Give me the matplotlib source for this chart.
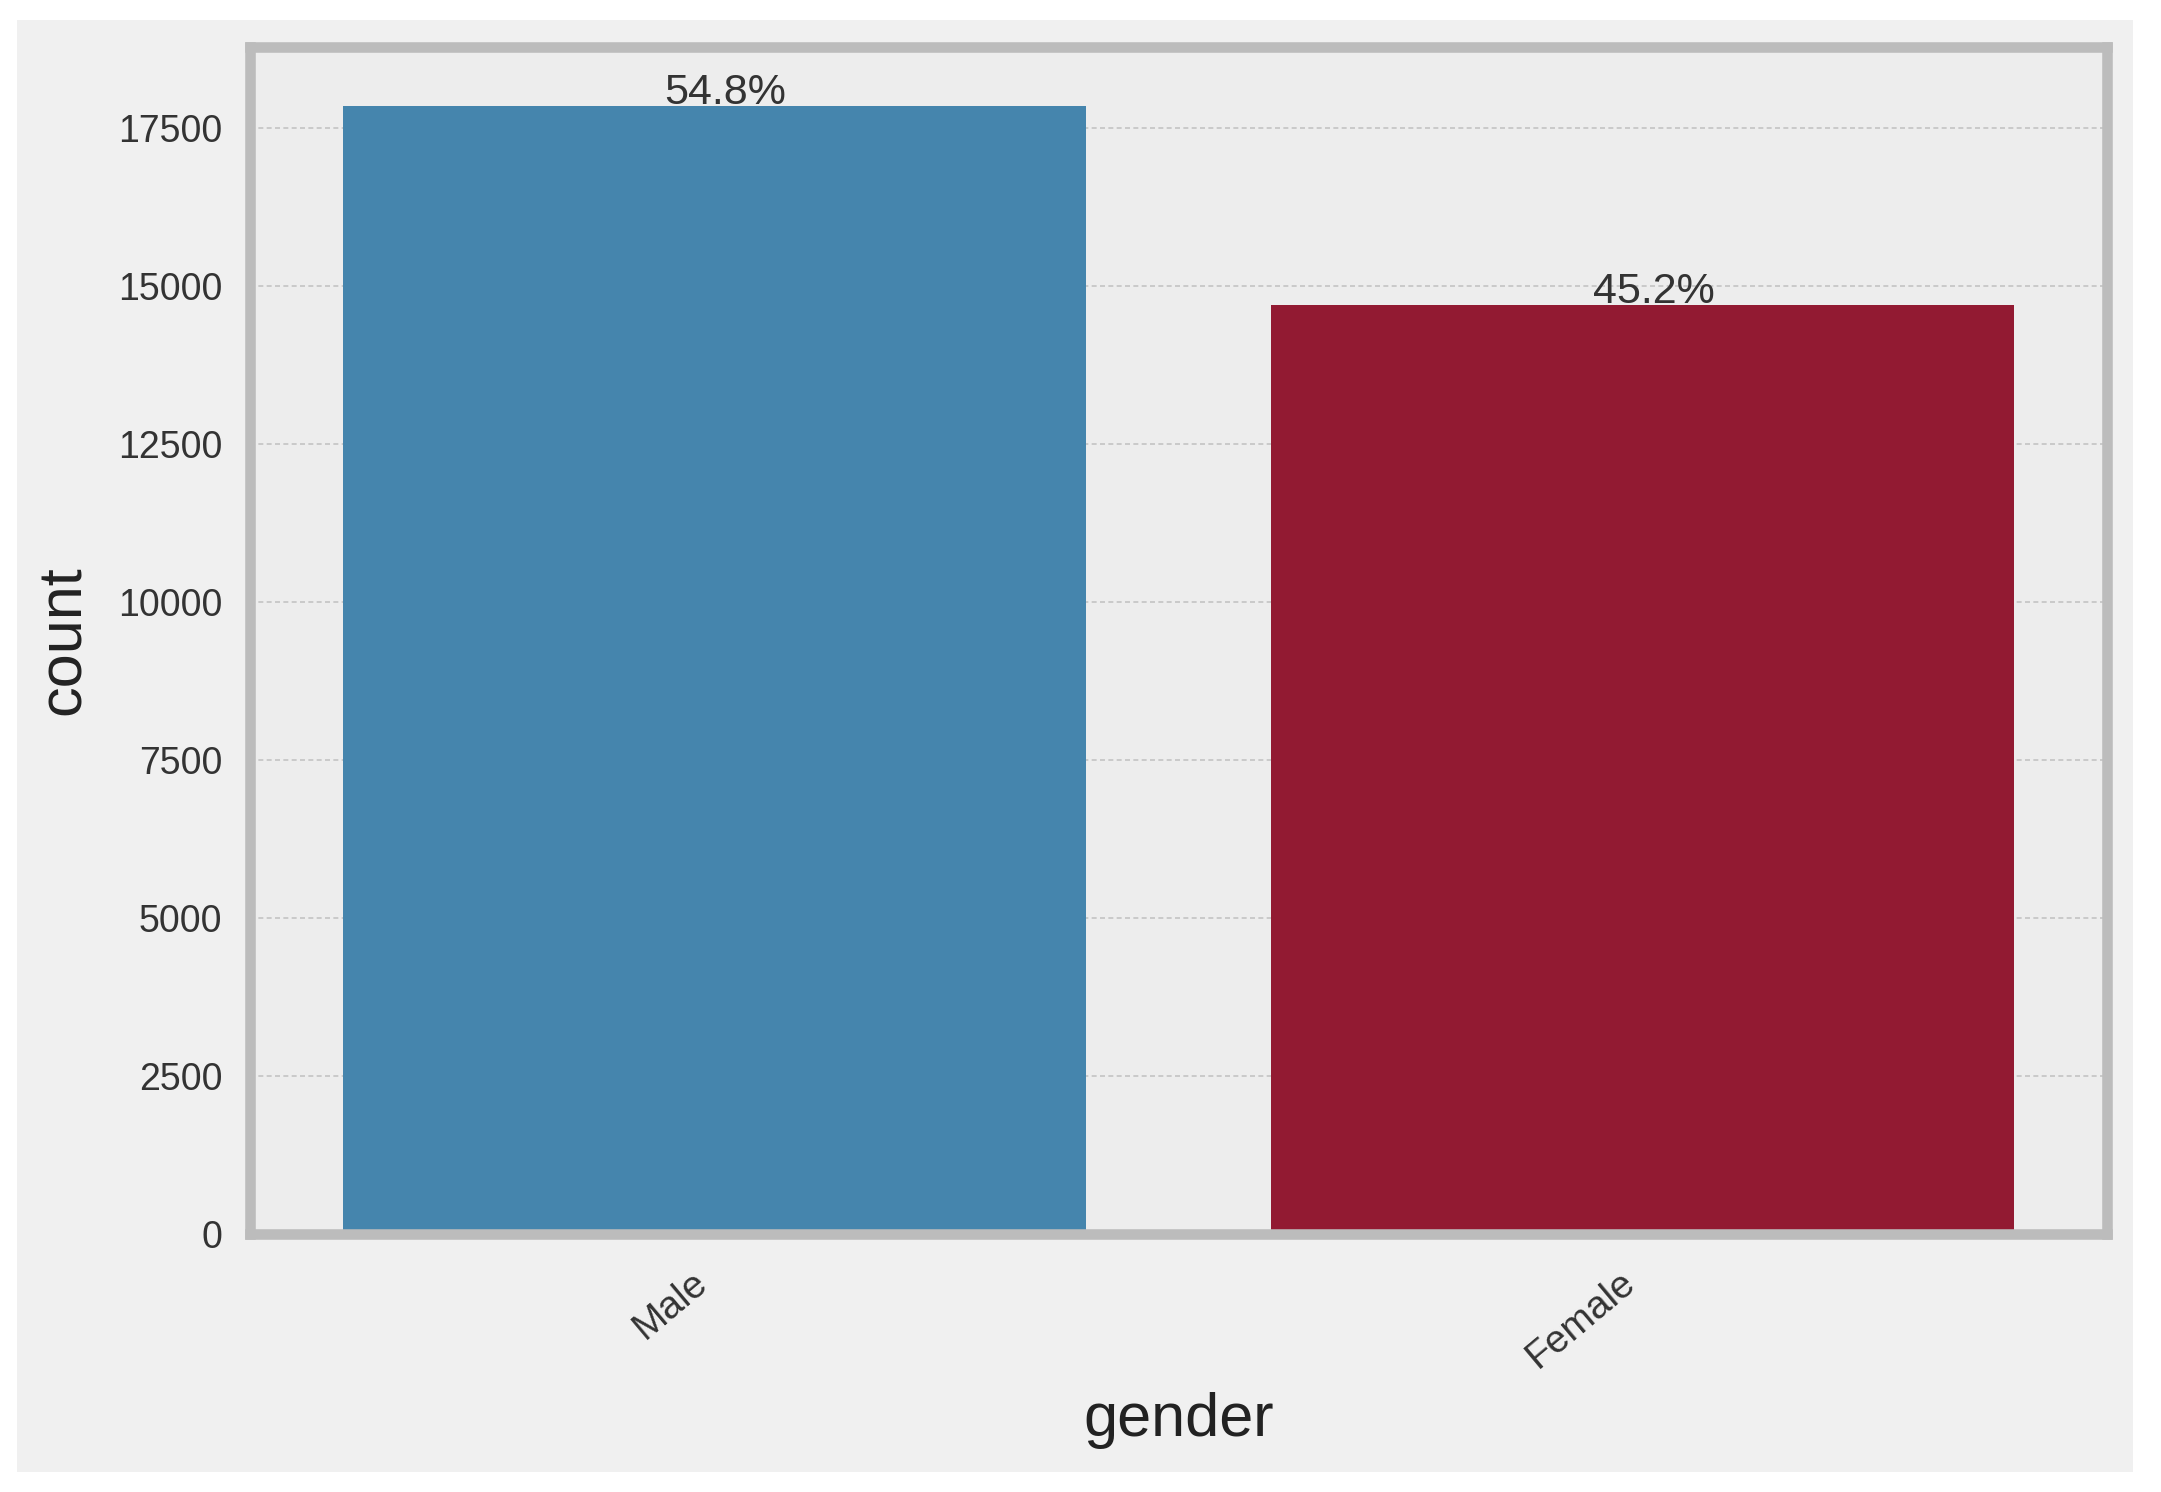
import matplotlib
matplotlib.use("Agg")
import matplotlib.pyplot as plt
from matplotlib.patches import Rectangle

# data
categories = ["Male", "Female"]
counts = [17850, 14700]
bar_colors = ["#4585ad", "#921a32"]

plt.rcParams["font.family"] = ["Liberation Sans", "DejaVu Sans"]

W, H, DPI = 2161, 1492, 200
fig = plt.figure(figsize=(W / DPI, H / DPI), dpi=DPI, facecolor="white")

# grey panel behind the plot (screenshot look)
bg = Rectangle((17 / W, 1 - 1472 / H), (2133 - 17) / W, (1472 - 20) / H,
               transform=fig.transFigure, facecolor="#f0f0f0",
               edgecolor="none", zorder=-10)
fig.add_artist(bg)

ax = fig.add_axes([250 / W, 1 - 1234 / H, (2107 - 250) / W, (1234 - 47) / H])
ax.set_zorder(1)
ax.set_facecolor("#ededed")

x = list(range(len(categories)))
bars = ax.bar(x, counts, width=0.8, color=bar_colors, zorder=2)

total = sum(counts)
for b, c in zip(bars, counts):
    ax.annotate(f"{100 * c / total:.1f}%", (b.get_x() + b.get_width() / 2, b.get_height()),
                xytext=(4, 0.5), textcoords="offset points",
                ha="center", va="baseline", fontsize=15.5, color="#333333")

ax.set_xlim(-0.5, 1.5)
ax.set_ylim(0, 18780)
ax.set_yticks([0, 2500, 5000, 7500, 10000, 12500, 15000, 17500])
ax.set_xticks(x)
ax.set_xticklabels(categories, rotation=40, ha="right")

ax.tick_params(axis="both", length=0, labelcolor="#333333")
ax.tick_params(axis="y", labelsize=13.5, pad=10)
ax.tick_params(axis="x", labelsize=14, pad=11)

ax.grid(axis="y", color="#c4c4c4", linestyle=(0, (3, 2)), linewidth=0.6, zorder=1)
ax.set_axisbelow(True)

for s in ax.spines.values():
    s.set_color("#bcbcbc")
    s.set_linewidth(3.8)
    s.set_zorder(3)

ax.set_xlabel("gender", fontsize=22, color="#222222", labelpad=6)
ax.set_ylabel("count", fontsize=22, color="#222222", labelpad=9)

fig.savefig("out.png", dpi=DPI, facecolor="white")
